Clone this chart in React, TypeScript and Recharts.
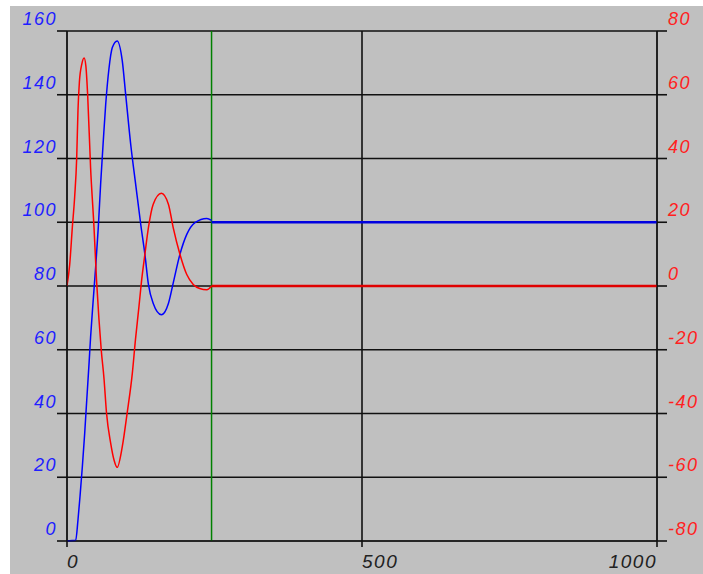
import { CartesianGrid, Line, LineChart, ReferenceLine, XAxis, YAxis } from "recharts";

// blue trace (left axis)
const blueT = [0, 14.7, 18.6, 22, 26, 30, 33.4, 37.3, 40, 44.6, 48.6, 53, 57, 61.5, 65.6, 71, 76.8, 85, 93.7, 99.4, 108, 116.4, 125, 132, 138, 146, 160, 172, 180, 191.5, 203, 217, 237, 245];
const blueV = [0, 0.2, 6.6, 13.9, 23.3, 33.8, 44, 55.5, 64, 76, 86, 98.3, 112, 125.5, 137, 148, 154.8, 156.9, 150.6, 140.2, 124.4, 111.9, 99.3, 90, 80.5, 74.6, 71, 74.6, 80.9, 90, 96.2, 99.9, 101.2, 100.6];

// red trace (right axis)
const redT = [0, 4.6, 9, 13, 16.4, 18.6, 21, 25, 29, 32, 35, 40, 45.8, 50, 54, 58, 62.7, 67, 74, 79.7, 85, 93.7, 102, 110.7, 116, 122, 126, 132, 138, 146, 160, 172, 180, 191.5, 203, 214, 225, 237, 245];
const redV = [0, 6.8, 18.3, 28, 40, 55, 64, 69.5, 71.5, 69, 60, 37, 18.3, 2, -10, -20, -29, -39.9, -49.3, -54.6, -56.9, -50.4, -39.8, -27.4, -16.9, -6.4, 1, 9.9, 18.3, 25.6, 29.1, 25.6, 18.3, 9.9, 3.6, 0.5, -0.8, -1.2, 0];

// steady state after the marker
const steadyT = [245, 1000];
const blueSteady = [100, 100];
const redSteady = [0, 0];

const markerT = 245;
const xTicks = [0, 500, 1000];
const leftTicks = [0, 20, 40, 60, 80, 100, 120, 140, 160];
const rightTicks = [-80, -60, -40, -20, 0, 20, 40, 60, 80];

const zip = (ts: number[], vs: number[]) => ts.map((t, i) => ({ t, v: vs[i] }));

const font = { fontFamily: "'Liberation Sans', Arial, sans-serif", fontStyle: "italic" as const, fontSize: 18, letterSpacing: 1.5 };

function LeftTick({ x, y, payload }: any) {
  return (
    <text x={x} y={y - 6} textAnchor="end" fill="#1f1fff" style={font}>
      {payload.value}
    </text>
  );
}

function RightTick({ x, y, payload }: any) {
  return (
    <text x={x + 1} y={y - 6} textAnchor="start" fill="#ff1f1f" style={font}>
      {payload.value}
    </text>
  );
}

function BottomTick({ x, y, payload }: any) {
  const anchor = payload.value === 1000 ? "end" : "start";
  return (
    <text x={x} y={y + 21} textAnchor={anchor} fill="#222" style={{ ...font, fontSize: 19 }}>
      {payload.value}
    </text>
  );
}

export default function App() {
  return (
    <div style={{ position: "absolute", left: 10, top: 6, width: 693, height: 568, background: "#c0c0c0" }}>
      <LineChart width={693} height={568} margin={{ top: 25, right: 0, left: 0, bottom: 0 }}>
        <CartesianGrid yAxisId="left" stroke="#111" strokeWidth={1.6} />
        <XAxis
          type="number"
          dataKey="t"
          domain={[0, 1000]}
          ticks={xTicks}
          allowDataOverflow
          height={33}
          tickSize={6}
          tickMargin={0}
          stroke="#111"
          tickLine={{ stroke: "#111", strokeWidth: 1.6 }}
          tick={<BottomTick />}
        />
        <YAxis
          yAxisId="left"
          domain={[0, 160]}
          ticks={leftTicks}
          width={57}
          tickSize={10}
          tickMargin={0}
          stroke="#111"
          tickLine={{ stroke: "#111", strokeWidth: 1.6 }}
          tick={<LeftTick />}
        />
        <YAxis
          yAxisId="right"
          orientation="right"
          domain={[-80, 80]}
          ticks={rightTicks}
          width={46}
          tickSize={10}
          tickMargin={0}
          stroke="#111"
          tickLine={{ stroke: "#111", strokeWidth: 1.6 }}
          tick={<RightTick />}
        />
        <ReferenceLine yAxisId="left" x={markerT} stroke="#008000" strokeWidth={1.5} />
        <Line yAxisId="left" data={zip(blueT, blueV)} dataKey="v" type="monotone" stroke="#0000ff" strokeWidth={1.5} dot={false} isAnimationActive={false} />
        <Line yAxisId="right" data={zip(redT, redV)} dataKey="v" type="monotone" stroke="#ff0000" strokeWidth={1.5} dot={false} isAnimationActive={false} />
        <Line yAxisId="left" data={zip(steadyT, blueSteady)} dataKey="v" stroke="#0000e0" strokeWidth={2.5} dot={false} isAnimationActive={false} />
        <Line yAxisId="right" data={zip(steadyT, redSteady)} dataKey="v" stroke="#e00000" strokeWidth={2.5} dot={false} isAnimationActive={false} />
      </LineChart>
    </div>
  );
}
